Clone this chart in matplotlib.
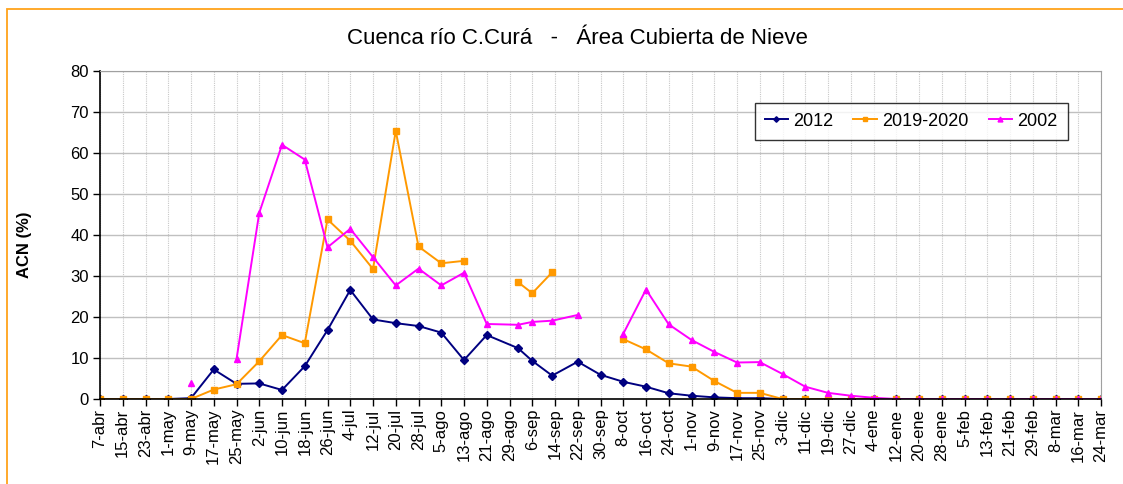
import matplotlib.pyplot as plt
import matplotlib.patches as mpatches
import numpy as np
import pandas as pd

plt.rcParams['font.family'] = ['Liberation Sans', 'DejaVu Sans']

nan = np.nan

# axis labels every 8 days
tick_labels = ["7-abr", "15-abr", "23-abr", "1-may", "9-may", "17-may", "25-may",
               "2-jun", "10-jun", "18-jun", "26-jun", "4-jul", "12-jul", "20-jul",
               "28-jul", "5-ago", "13-ago", "21-ago", "29-ago", "6-sep", "14-sep",
               "22-sep", "30-sep", "8-oct", "16-oct", "24-oct", "1-nov", "9-nov",
               "17-nov", "25-nov", "3-dic", "11-dic", "19-dic", "27-dic", "4-ene",
               "12-ene", "20-ene", "28-ene", "5-feb", "13-feb", "21-feb", "29-feb",
               "8-mar", "16-mar", "24-mar"]

# observation dates
dates = ["2019-04-07", "2019-04-15", "2019-04-23", "2019-05-01", "2019-05-09",
         "2019-05-17", "2019-05-25", "2019-06-02", "2019-06-10", "2019-06-18",
         "2019-06-26", "2019-07-04", "2019-07-12", "2019-07-20", "2019-07-28",
         "2019-08-05", "2019-08-13", "2019-08-21", "2019-09-01", "2019-09-06",
         "2019-09-13", "2019-09-22", "2019-09-30", "2019-10-08", "2019-10-16",
         "2019-10-24", "2019-11-01", "2019-11-09", "2019-11-17", "2019-11-25",
         "2019-12-03", "2019-12-11", "2019-12-19", "2019-12-27", "2020-01-04",
         "2020-01-12", "2020-01-20", "2020-01-28", "2020-02-05", "2020-02-13",
         "2020-02-21", "2020-02-29", "2020-03-08", "2020-03-16", "2020-03-24"]

acn_2012 = [0, 0, 0, 0, 0.2, 7.2, 3.7, 3.8, 2.2, 8.0,
            16.8, 26.6, 19.4, 18.5, 17.8, 16.2, 9.5, 15.6, 12.4, 9.3,
            5.7, 9.1, 5.9, 4.2, 3.0, 1.4, 0.8, 0.4, 0.2, 0.2,
            0, 0, 0, 0, 0, 0, 0, 0, 0, 0, 0, 0, 0, 0, 0]

acn_2019_2020 = [0, 0, 0, 0, 0, 2.3, 3.6, 9.2, 15.6, 13.6,
                 43.8, 38.6, 31.7, 65.4, 37.2, 33.1, 33.7, nan, 28.5, 25.8,
                 30.9, nan, nan, 14.6, 12.1, 8.7, 7.9, 4.4, 1.5, 1.5,
                 0, 0, 0, 0, 0, 0, 0, 0, 0, 0, 0, 0, 0, 0, 0]

acn_2002 = [nan, nan, nan, nan, 3.8, nan, 9.7, 45.4, 62.0, 58.4,
            37.0, 41.5, 34.6, 27.7, 31.8, 27.7, 30.8, 18.3, 18.1, 18.8,
            19.1, 20.5, nan, 15.9, 26.7, 18.2, 14.4, 11.5, 8.9, 9.0,
            6.1, 3.0, 1.5, 0.8, 0.3, 0, 0, 0, 0, 0, 0, 0, 0, 0, 0]

W, H = 1123, 484
fig = plt.figure(figsize=(W / 100, H / 100), dpi=100)

# chart frame (orange border)
fig.add_artist(mpatches.Rectangle((7 / W, -0.5), 2, 1.5 - 9 / H,
                                  transform=fig.transFigure, fill=False,
                                  edgecolor='#FFA31A', lw=1.3))

ax = fig.add_axes([100 / W, (H - 399) / H, 1001 / W, 328 / H])

x = pd.to_datetime(dates)
ax.plot(x, acn_2012, color='#000080', marker='D', ms=4, lw=1.4, label='2012')
ax.plot(x, acn_2019_2020, color='#FF9900', marker='s', ms=5, lw=1.4, label='2019-2020')
ax.plot(x, acn_2002, color='#FF00FF', marker='^', ms=5, lw=1.4, label='2002')

ticks = pd.date_range("2019-04-07", periods=len(tick_labels), freq="8D")
ax.set_xticks(ticks)
ax.set_xticklabels(tick_labels, rotation=90, fontsize=12)
ax.set_xlim(ticks[0], ticks[-1])

ax.set_ylim(0, 80)
ax.set_yticks(range(0, 81, 10))
ax.tick_params(axis='y', labelsize=12, length=5, width=1, pad=3)
ax.tick_params(axis='x', length=5, width=1, pad=2)

ax.set_axisbelow(True)
ax.yaxis.grid(True, color='#c0c0c0', lw=1)
ax.xaxis.grid(True, color='#c8c8c8', lw=0.8, ls=(0, (1, 1)))

for side in ('top', 'right'):
    ax.spines[side].set_color('#a0a0a0')
for side in ('left', 'bottom'):
    ax.spines[side].set_color('black')
    ax.spines[side].set_linewidth(1.2)

leg = ax.legend(loc='upper left', bbox_to_anchor=(0.654, 0.903), ncol=3,
                fontsize=13, frameon=True, fancybox=False, edgecolor='black',
                handlelength=1.3, handletextpad=0.3, columnspacing=1.1,
                borderpad=0.55, borderaxespad=0, markerscale=0.7)
leg.get_frame().set_linewidth(1.0)

fig.text(577 / W, 1 - 38 / H, "Cuenca río C.Curá   -   Área Cubierta de Nieve",
         ha='center', va='center', fontsize=16)
fig.text(24 / W, 1 - 245 / H, "ACN (%)", rotation=90, ha='center', va='center',
         fontsize=12, fontweight='bold')

fig.savefig("out.png", dpi=100)
